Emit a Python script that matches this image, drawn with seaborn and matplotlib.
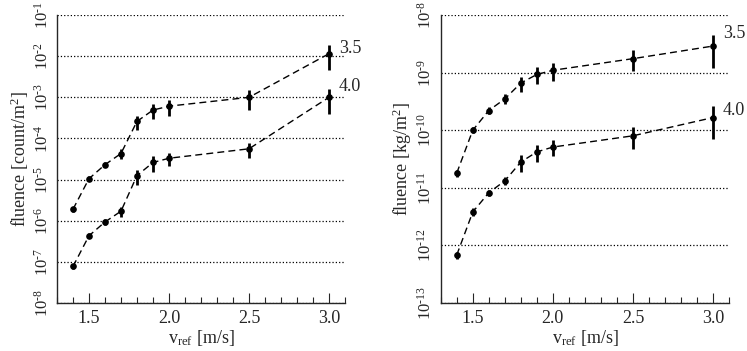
import numpy as np
import pandas as pd
import matplotlib
matplotlib.use('Agg')
import matplotlib.pyplot as plt
import matplotlib.ticker as mticker
import seaborn as sns

# reference speeds
v_ref = [1.4, 1.5, 1.6, 1.7, 1.8, 1.9, 2.0, 2.5, 3.0]

# number fluence [count/m^2]
count_35 = [1.9e-6, 1.05e-5, 2.3e-5, 4.3e-5, 2.6e-4, 4.9e-4, 6.1e-4, 1.0e-3, 1.15e-2]
count_35_err = [3e-7, 1.5e-6, 3e-6, 1.2e-5, 1.0e-4, 2.0e-4, 2.5e-4, 5.0e-4, 6.8e-3]
count_40 = [7.7e-8, 4.3e-7, 9.3e-7, 1.7e-6, 1.25e-5, 2.6e-5, 3.3e-5, 5.6e-5, 1.0e-3]
count_40_err = [1.2e-8, 6e-8, 1.5e-7, 5e-7, 5e-6, 1.1e-5, 1.2e-5, 2.3e-5, 6.0e-4]

# mass fluence [kg/m^2]
mass_35 = [1.8e-11, 1.0e-10, 2.2e-10, 3.5e-10, 6.6e-10, 9.3e-10, 1.1e-9, 1.75e-9, 2.9e-9]
mass_35_err = [2.5e-12, 1.2e-11, 3e-11, 7e-11, 1.9e-10, 3.0e-10, 3.7e-10, 7.0e-10, 1.7e-9]
mass_40 = [6.8e-13, 3.8e-12, 8.2e-12, 1.32e-11, 2.8e-11, 4.2e-11, 5.1e-11, 8.0e-11, 1.66e-10]
mass_40_err = [1e-13, 6e-13, 1e-12, 2e-12, 9e-12, 1.4e-11, 1.6e-11, 3.3e-11, 9.5e-11]

series_labels = ['3.5', '4.0']

sns.set_style('ticks')
plt.rcParams['font.family'] = ['Liberation Serif', 'DejaVu Serif']
plt.rcParams['mathtext.fontset'] = 'custom'
plt.rcParams['mathtext.rm'] = 'Liberation Serif'
plt.rcParams['mathtext.it'] = 'Liberation Serif:italic'
plt.rcParams['mathtext.bf'] = 'Liberation Serif:bold'
plt.rcParams['font.size'] = 12

fig = plt.figure(figsize=(7.47, 3.51), dpi=100)
ax1 = fig.add_axes([0.0763, 0.137, 0.3855, 0.820])
ax2 = fig.add_axes([0.590, 0.137, 0.386, 0.820])


def draw_panel(ax, series, errs, ylim, ylabel, label_offsets):
    for vals, err, lab, off in zip(series, errs, series_labels, label_offsets):
        df = pd.DataFrame({'v': v_ref, 'f': vals})
        sns.lineplot(data=df, x='v', y='f', ax=ax, color='black', linestyle='--',
                     linewidth=1.0, marker='o', markersize=4.8, markeredgewidth=0,
                     legend=False)
        ax.lines[-1].set_dashes([5, 3])
        ax.errorbar(v_ref, vals, yerr=err, fmt='none', ecolor='black',
                    elinewidth=2.0, capsize=0)
        ax.annotate(lab, xy=(v_ref[-1], vals[-1]), xytext=off,
                    textcoords='offset points', va='center', ha='left',
                    fontsize=13, annotation_clip=False)

    ax.set_yscale('log')
    ax.set_ylim(*ylim)
    ax.set_xlim(1.3, 3.1)
    lo, hi = int(np.log10(ylim[0])), int(np.log10(ylim[1]))
    ax.yaxis.set_major_locator(mticker.FixedLocator([10.0 ** k for k in range(lo, hi + 1)]))
    ax.yaxis.set_minor_locator(mticker.NullLocator())
    ax.yaxis.set_major_formatter(mticker.FuncFormatter(
        lambda y, p: r'$10^{\text{-}%d}$' % abs(int(round(np.log10(y))))))
    ax.tick_params(axis='y', length=0, pad=4, labelsize=12, labelrotation=90)
    for t in ax.yaxis.get_majorticklabels():
        t.set_va('center')
    ax.xaxis.set_major_locator(mticker.FixedLocator([1.5, 2.0, 2.5, 3.0]))
    ax.xaxis.set_major_formatter(mticker.FormatStrFormatter('%.1f'))
    ax.xaxis.set_minor_locator(mticker.MultipleLocator(0.1))
    ax.tick_params(axis='x', which='major', direction='in', length=7, width=0.8,
                   labelsize=13, pad=5)
    ax.tick_params(axis='x', which='minor', direction='in', length=4, width=0.8)
    ax.grid(axis='y', which='major', linestyle=':', color='black', linewidth=0.9)
    sns.despine(ax=ax)
    ax.spines['left'].set_linewidth(1.0)
    ax.spines['bottom'].set_linewidth(1.0)
    ax.set_xlabel(r'v$_{\mathrm{ref}}$ [m/s]', fontsize=13, labelpad=1)
    ax.set_ylabel(ylabel, fontsize=13, labelpad=2)


draw_panel(ax1, [count_35, count_40], [count_35_err, count_40_err], (1e-8, 1e-1),
           r'fluence [count/m$^2$]', [(7, 4), (7, 8)])
draw_panel(ax2, [mass_35, mass_40], [mass_35_err, mass_40_err], (1e-13, 1e-8),
           r'fluence [kg/m$^2$]', [(7, 9), (7, 5)])

fig.savefig('out.png', dpi=100)
